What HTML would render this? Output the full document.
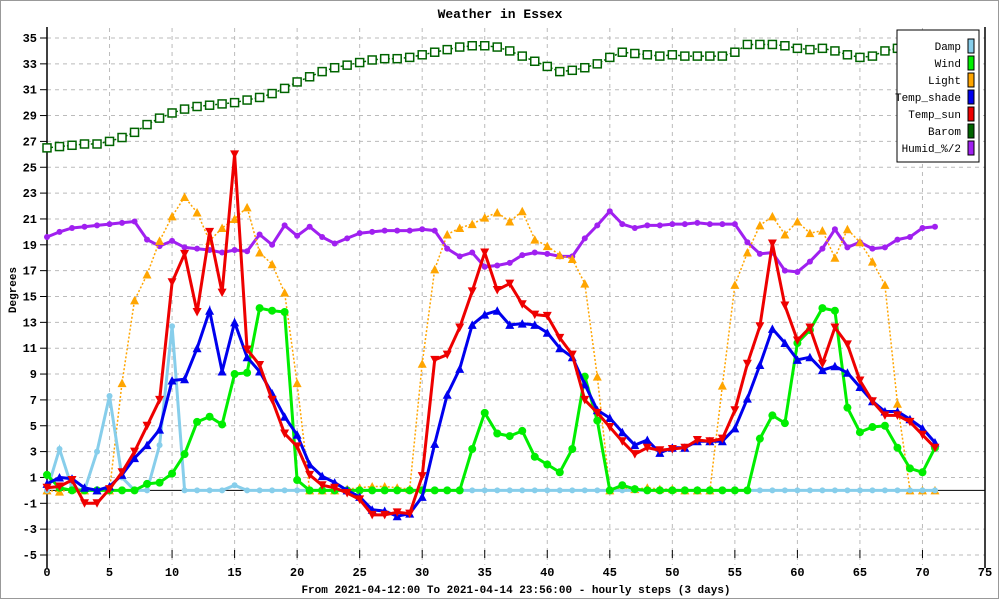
<!DOCTYPE html>
<html><head><meta charset="utf-8"><style>
html,body{margin:0;padding:0;background:#fff;}
svg{display:block;font-family:"Liberation Mono",monospace;}
</style></head><body>
<svg id="chart" width="1000" height="600" viewBox="0 0 1000 600" xmlns="http://www.w3.org/2000/svg">
<rect x="0.5" y="0.5" width="998" height="598" fill="#fff" stroke="#999"/>
<text x="500" y="18" text-anchor="middle" font-size="13" font-weight="bold">Weather in Essex</text>
<text x="16" y="290" text-anchor="middle" font-size="11" font-weight="bold" transform="rotate(-90 16 290)">Degrees</text>
<text x="516" y="593" text-anchor="middle" font-size="11" font-weight="bold">From 2021-04-12:00 To 2021-04-14 23:56:00 - hourly steps (3 days)</text>
<g id="grid"></g><g id="axes"></g><g id="series"></g><g id="legend"></g>
</svg>
<script>
const xTicks=[0,5,10,15,20,25,30,35,40,45,50,55,60,65,70,75];
const yTicks=[-5,-3,-1,1,3,5,7,9,11,13,15,17,19,21,23,25,27,29,31,33,35];
const seriesNames=["Damp","Wind","Light","Temp_shade","Temp_sun","Barom","Humid_%/2"];
const damp=[0,3.2,0.2,0,3,7.3,1,0,0,3.5,12.7,0,0,0,0,0.4,0,0,0,0,0,0,0,0,0,0,0,0,0,0,0,0,0,0,0,0,0,0,0,0,0,0,0,0,0,0,0,0,0,0,0,0,0,0,0,0,0,0,0,0,0,0,0,0,0,0,0,0,0,0,0,0];
const wind=[1.2,0.2,0,0,0,0,0,0,0.5,0.6,1.3,2.8,5.3,5.7,5.1,9,9.1,14.1,13.9,13.8,0.8,0,0,0,0,0,0,0,0,0,0,0,0,0,3.2,6,4.4,4.2,4.6,2.6,2,1.4,3.2,8.8,5.4,0,0.4,0.1,0,0,0,0,0,0,0,0,0,4,5.8,5.2,11.4,12.4,14.1,13.9,6.4,4.5,4.9,5,3.3,1.7,1.4,3.3];
const light=[0,-0.1,0.1,0,0,0,8.3,14.7,16.7,19.3,21.2,22.7,21.5,19.3,20.3,21,21.9,18.4,17.5,15.3,8.3,0,0,0,0.1,0.2,0.3,0.3,0.2,0.1,9.8,17.1,19.8,20.3,20.6,21.1,21.5,20.8,21.6,19.4,18.9,18.2,17.9,16,8.8,0,0.2,0.1,0.2,0.1,0.1,0,0,0,8.1,15.9,18.4,20.5,21.2,19.8,20.8,19.9,20.1,18,20.2,19.2,17.7,15.9,6.7,0,0,0];
const tempShade=[0.5,1,0.9,0.2,0,0.3,1.2,2.5,3.5,4.7,8.5,8.6,11,13.9,9.2,13,10.3,9.2,7.5,5.7,4.3,2,1.1,0.6,0,-0.5,-1.5,-1.6,-2,-1.8,-0.5,3.6,7.4,9.4,12.8,13.6,13.9,12.8,12.9,12.8,12.2,11,10.3,8.2,6.2,5.6,4.5,3.5,3.9,2.9,3.3,3.3,3.8,3.8,3.8,4.8,7.1,9.7,12.5,11.4,10.1,10.3,9.3,9.6,9.1,8,6.9,6.1,6.1,5.5,4.8,3.7];
const tempSun=[0.2,0.3,0.8,-1,-1,0.1,1.4,3,5,7,16.1,18.3,13.8,20,15.3,26,10.9,9.7,7,4.4,3.4,1.2,0.4,0.2,-0.2,-0.7,-1.9,-1.9,-1.7,-1.8,1.1,10.1,10.5,12.6,15.4,18.4,15.5,16,14.4,13.6,13.5,11.8,10.5,7,6,4.9,3.8,2.8,3.3,3.1,3.2,3.3,3.9,3.8,4,6.2,9.8,12.7,19.1,14.3,11.6,12.6,9.8,12.6,11.3,8.5,6.9,5.8,5.8,5.3,4.3,3.3];
const barom=[26.5,26.6,26.7,26.8,26.8,27,27.3,27.7,28.3,28.8,29.2,29.5,29.7,29.8,29.9,30,30.2,30.4,30.7,31.1,31.6,32,32.4,32.7,32.9,33.1,33.3,33.4,33.4,33.5,33.7,33.9,34.1,34.3,34.4,34.4,34.3,34,33.6,33.2,32.8,32.4,32.5,32.7,33,33.5,33.9,33.8,33.7,33.6,33.7,33.6,33.6,33.6,33.6,33.9,34.5,34.5,34.5,34.4,34.2,34.1,34.2,34,33.7,33.5,33.6,34,34.2,34.3,34.4,34.5];
const humid=[19.6,20,20.3,20.4,20.5,20.6,20.7,20.8,19.4,18.9,19.3,18.8,18.7,18.6,18.4,18.6,18.5,19.8,19,20.5,19.7,20.4,19.6,19.1,19.5,19.9,20,20.1,20.1,20.1,20.2,20.1,18.7,18.1,18.4,17.3,17.4,17.6,18.2,18.4,18.3,18.1,18.1,19.5,20.5,21.6,20.6,20.3,20.5,20.5,20.6,20.6,20.7,20.6,20.6,20.6,19.2,18.3,18.4,17,16.9,17.7,18.7,20.2,18.8,19.2,18.7,18.8,19.4,19.6,20.3,20.4];

const NS="http://www.w3.org/2000/svg";
const X0=47,X1=985,Y0=555,Y1=38;
const xs=v=>X0+(v-0)*(X1-X0)/75;
const ys=v=>Y0-(v+5)*(Y0-Y1)/40;
function mk(tag,attrs,parent){const e=document.createElementNS(NS,tag);for(const k in attrs)e.setAttribute(k,attrs[k]);parent.appendChild(e);return e;}
const grid=document.getElementById('grid'),axes=document.getElementById('axes'),ser=document.getElementById('series'),leg=document.getElementById('legend');

yTicks.forEach(t=>{
  const y=ys(t);
  const g=mk('line',{x1:X0,x2:X1,y1:y,y2:y,stroke:'#bbb','stroke-dasharray':'4,4'},grid);
  
  
  const tk=mk('line',{x1:X0-7,x2:X0,y1:y,y2:y,stroke:'#000'},axes);
  
  
  const lb=mk('text',{x:X0-10,y:y+4,'text-anchor':'end','font-size':'12','font-weight':'bold'},axes);
  lb.textContent=t;
  
  
});
xTicks.forEach(t=>{
  const x=xs(t);
  if(t>0&&t<75){const g=mk('line',{x1:x,x2:x,y1:Y1-10,y2:Y0+10,stroke:'#bbb','stroke-dasharray':'4,4'},grid);
  
  }
  const tk=mk('line',{x1:x,x2:x,y1:Y0-5,y2:Y0+3,stroke:'#000'},axes);
  
  
  const lb=mk('text',{x:x,y:576,'text-anchor':'middle','font-size':'12','font-weight':'bold'},axes);
  lb.textContent=t;
  
  
});
const ya=mk('line',{x1:X0,x2:X0,y1:27,y2:568,stroke:'#000','stroke-width':1.5},axes);


const ra=mk('line',{x1:X1,x2:X1,y1:27,y2:568,stroke:'#000','stroke-width':1.5},axes);


const za=mk('line',{x1:X0,x2:X1,y1:ys(0),y2:ys(0),stroke:'#000'},axes);



const defs=[
 {name:'barom',data:barom,color:'#006400',w:1.5,dash:'2,2',marker:'sq-open'},
 {name:'humid',data:humid,color:'#a020f0',w:3,dash:null,marker:'star'},
 {name:'light',data:light,color:'#ffa500',w:1.5,dash:'2,2',marker:'tri-up'},
 {name:'damp',data:damp,color:'#87ceeb',w:3,dash:null,marker:'star'},
 {name:'wind',data:wind,color:'#00ee00',w:3,dash:null,marker:'circle'},
 {name:'temp-shade',data:tempShade,color:'#0000ee',w:3,dash:null,marker:'tri-up'},
 {name:'temp-sun',data:tempSun,color:'#ee0000',w:3,dash:null,marker:'tri-down'}
];
defs.forEach(s=>{
  const g=mk('g',{},ser);
  
  
  const pts=s.data.map((v,i)=>xs(i).toFixed(1)+','+ys(v).toFixed(1)).join(' ');
  const pl=mk('polyline',{points:pts,fill:'none',stroke:s.color,'stroke-width':s.w},g);
  if(s.dash)pl.setAttribute('stroke-dasharray',s.dash);
  
  
  s.data.forEach((v,i)=>{
    const x=xs(i),y=ys(v);let m;
    if(s.marker==='sq-open')m=mk('rect',{x:x-4,y:y-4,width:8,height:8,fill:'#fff',stroke:s.color,'stroke-width':1.5},g);
    else if(s.marker==='circle')m=mk('circle',{cx:x,cy:y,r:4,fill:s.color},g);
    else if(s.marker==='tri-up')m=mk('polygon',{points:`${x-4.5},${y+4} ${x+4.5},${y+4} ${x},${y-4.5}`,fill:s.color},g);
    else if(s.marker==='tri-down')m=mk('polygon',{points:`${x-4.5},${y-4} ${x+4.5},${y-4} ${x},${y+4.5}`,fill:s.color},g);
    else m=mk('circle',{cx:x,cy:y,r:3,fill:s.color},g);
    
    
  });
});

const legColors=['#87ceeb','#00ee00','#ffa500','#0000ee','#ee0000','#006400','#a020f0'];
const lb=mk('rect',{x:897,y:30,width:82,height:132,fill:'#fff',stroke:'#000'},leg);


seriesNames.forEach((n,i)=>{
  const y=46+i*17;
  const t=mk('text',{x:961,y:y+4,'text-anchor':'end','font-size':'11'},leg);
  t.textContent=n;
  
  
  const r=mk('rect',{x:968,y:y-7,width:6,height:14,fill:legColors[i],stroke:'#000'},leg);
  
  
});
</script>
</body></html>
